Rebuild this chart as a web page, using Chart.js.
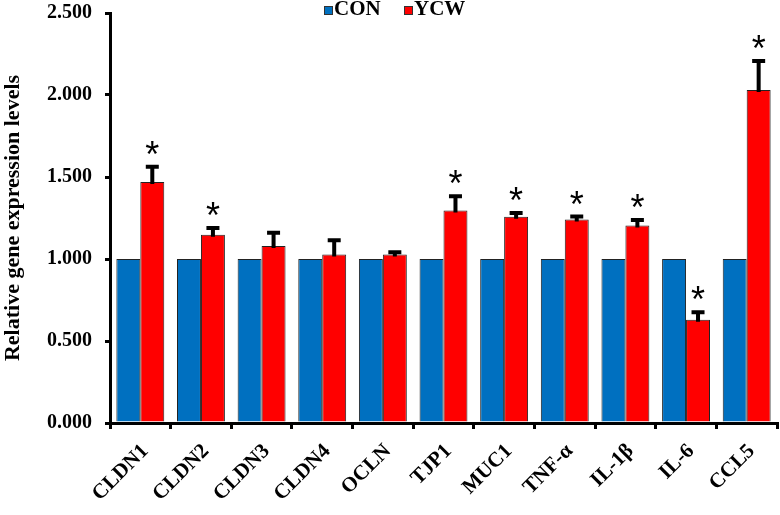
<!DOCTYPE html>
<html lang="en">
<head>
<meta charset="UTF-8">
<title>Relative gene expression levels</title>
<script src="https://cdn.jsdelivr.net/npm/chart.js"></script>
<style>
  html,body{margin:0;padding:0;background:#fff}
</style>
</head>
<body>
<canvas id="bars" width="780" height="515"></canvas>
<script>
// values
const genes   = ['CLDN1','CLDN2','CLDN3','CLDN4','OCLN','TJP1','MUC1','TNF-α','IL-1β','IL-6','CCL5'];
const conVals = [1, 1, 1, 1, 1, 1, 1, 1, 1, 1, 1];
const ycwVals = [1.470, 1.148, 1.079, 1.027, 1.028, 1.295, 1.258, 1.241, 1.205, 0.630, 2.030];
const ycwErr  = [0.105, 0.053, 0.094, 0.099, 0.025, 0.100, 0.035, 0.030, 0.045, 0.058, 0.190];
const ycwSig  = [true, true, false, false, false, true, true, true, true, true, true];

const serif = '"Liberation Serif", "Times New Roman", serif';
const black = '#000';

// upward error bars + significance stars on the YCW series
const errorBars = {
  id: 'errorBars',
  afterDatasetsDraw(chart) {
    const ctx = chart.ctx, y = chart.scales.y;
    const meta = chart.getDatasetMeta(1);
    ctx.save();
    ctx.strokeStyle = black;
    ctx.fillStyle = black;
    ctx.lineWidth = 4;
    meta.data.forEach((bar, i) => {
      const top = y.getPixelForValue(ycwVals[i] + ycwErr[i]);
      ctx.beginPath();
      ctx.moveTo(bar.x, bar.y + 2);
      ctx.lineTo(bar.x, top);
      ctx.moveTo(bar.x - 6.5, top + 2);
      ctx.lineTo(bar.x + 6.5, top + 2);
      ctx.stroke();
      if (ycwSig[i]) {
        ctx.font = '36px "Liberation Sans", Arial, sans-serif';
        ctx.textAlign = 'center';
        ctx.textBaseline = 'alphabetic';
        ctx.fillText('*', bar.x, top + 2);
      }
    });
    ctx.restore();
  }
};

// small legend at the top, like the original
const topLegend = {
  id: 'topLegend',
  afterDraw(chart) {
    const ctx = chart.ctx;
    const spots = [324, 404];
    ctx.save();
    ctx.font = 'bold 21px ' + serif;
    ctx.textBaseline = 'middle';
    ctx.textAlign = 'left';
    chart.data.datasets.forEach((ds, i) => {
      const x = spots[i];
      ctx.fillStyle = ds.backgroundColor;
      ctx.fillRect(x, 6, 9, 9);
      ctx.strokeStyle = '#333';
      ctx.lineWidth = 1;
      ctx.strokeRect(x + 0.5, 6.5, 8, 8);
      ctx.fillStyle = black;
      ctx.fillText(ds.label, x + 10, 10);
    });
    ctx.restore();
  }
};

const boldFont = { family: serif, size: 20, weight: 'bold' };

new Chart(document.getElementById('bars'), {
  type: 'bar',
  data: {
    labels: genes,
    datasets: [
      { label: 'CON', data: conVals, backgroundColor: '#0070C0', borderColor: '#222', borderWidth: 1 },
      { label: 'YCW', data: ycwVals, backgroundColor: '#FF0000', borderColor: '#222', borderWidth: 1 }
    ]
  },
  options: {
    responsive: false,
    animation: false,
    devicePixelRatio: 1,
    layout: { padding: { top: 13, right: 3, left: 0, bottom: 0 } },
    datasets: { bar: { categoryPercentage: 0.79, barPercentage: 1 } },
    plugins: { legend: { display: false }, tooltip: { enabled: false } },
    scales: {
      x: {
        grid: { offset: true, drawOnChartArea: false, tickLength: 6, lineWidth: 3, tickWidth: 3, color: black },
        border: { color: black, width: 3 },
        ticks: { font: { family: serif, size: 21, weight: 'bold' }, color: black, maxRotation: 45, minRotation: 45, autoSkip: false, padding: 10, labelOffset: 5 },
        afterFit(s) { s.height = 92; s.paddingLeft = 0; s.paddingRight = 0; }
      },
      y: {
        min: 0, max: 2.5,
        grid: { drawOnChartArea: false, tickLength: 5, lineWidth: 3, tickWidth: 3, color: black },
        border: { color: black, width: 3 },
        ticks: { stepSize: 0.5, callback: v => v.toFixed(3), font: boldFont, color: black, padding: 13 },
        title: { display: true, text: 'Relative gene expression levels', font: { family: serif, size: 22, weight: 'bold' }, color: black, padding: 0 },
        afterFit(s) { s.width = 110; s.paddingTop = 0; s.paddingBottom = 0; }
      }
    }
  },
  plugins: [errorBars, topLegend]
});
</script>
</body>
</html>
